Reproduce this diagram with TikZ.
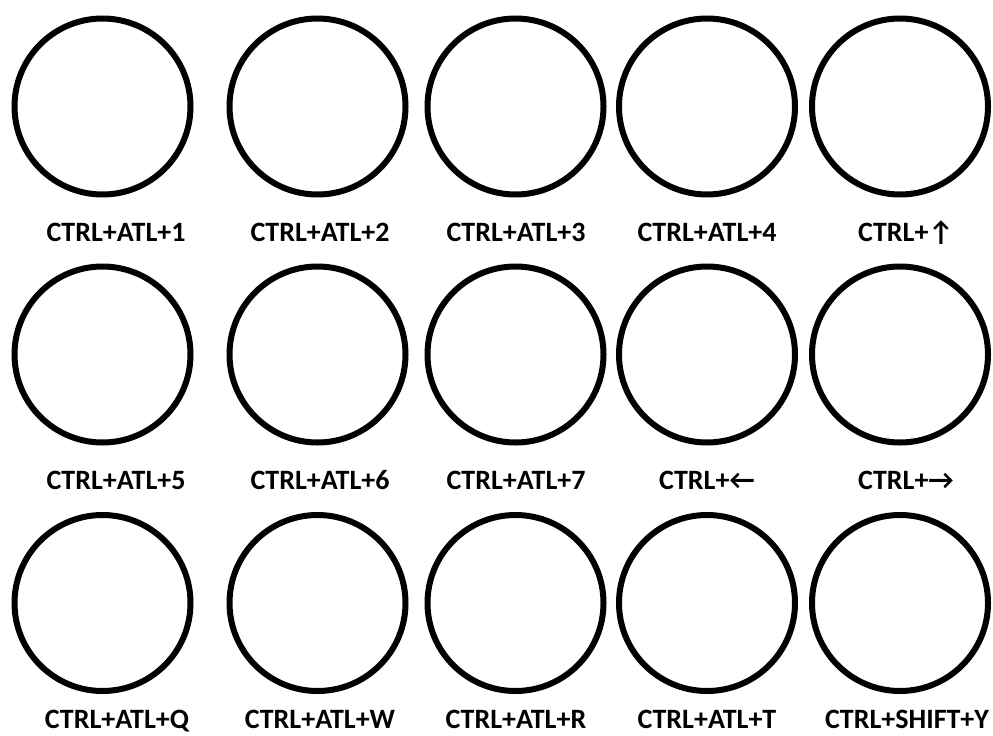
\documentclass[tikz,border=0pt]{standalone}
\usepackage{fontspec}
\setmainfont{Carlito}
\usetikzlibrary{positioning}
\tikzset{
  key/.style={draw, circle, line width=6pt, minimum size=176pt, inner sep=0pt},
  keylabel/.style={anchor=base, inner sep=0pt, font=\fontsize{28}{32}\selectfont\bfseries}
}

\begin{document}
\begin{tikzpicture}[x=1pt, y=-1pt]
    \useasboundingbox (0,0) rectangle (993,736);
    % row 1
    \node[key] (k1) at (102.5,106.5) {};
    \node[key] (k2) at (317.5,106.5) {};
    \node[key] (k3) at (515.5,106.5) {};
    \node[key] (k4) at (707,106.5) {};
    \node[key] (k5) at (900,106.5) {};
    \node[keylabel] (l1) at (116,241) {CTRL+ATL+1};
    \node[keylabel] (l2) at (320,241) {CTRL+ATL+2};
    \node[keylabel] (l3) at (516,241) {CTRL+ATL+3};
    \node[keylabel] (l4) at (707,241) {CTRL+ATL+4};
    \node[keylabel] (l5) at (906,241) {CTRL+↑};
    % row 2
    \node[key] (k6) at (102.5,354.5) {};
    \node[key] (k7) at (317.5,354.5) {};
    \node[key] (k8) at (515.5,354.5) {};
    \node[key] (k9) at (707,354.5) {};
    \node[key] (k10) at (900,354.5) {};
    \node[keylabel] (l6) at (116,489) {CTRL+ATL+5};
    \node[keylabel] (l7) at (320,489) {CTRL+ATL+6};
    \node[keylabel] (l8) at (516,489) {CTRL+ATL+7};
    \node[keylabel] (l9) at (707,489) {CTRL+←};
    \node[keylabel] (l10) at (906,489) {CTRL+→};
    % row 3
    \node[key] (k11) at (102.5,603) {};
    \node[key] (k12) at (317.5,603) {};
    \node[key] (k13) at (515.5,603) {};
    \node[key] (k14) at (707,603) {};
    \node[key] (k15) at (900,603) {};
    \node[keylabel] (l11) at (117,728) {CTRL+ATL+Q};
    \node[keylabel] (l12) at (320,728) {CTRL+ATL+W};
    \node[keylabel] (l13) at (516,728) {CTRL+ATL+R};
    \node[keylabel] (l14) at (707,728) {CTRL+ATL+T};
    \node[keylabel] (l15) at (907,728) {CTRL+SHIFT+Y};
  \end{tikzpicture}
\end{document}
